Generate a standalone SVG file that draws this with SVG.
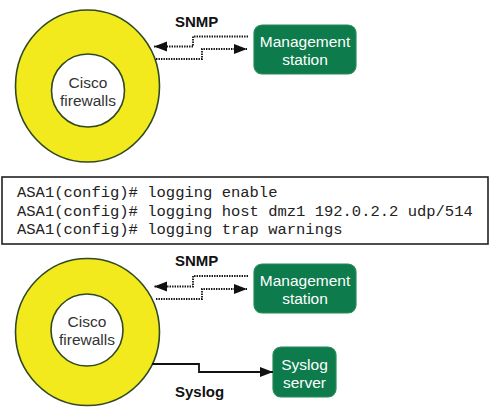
<svg xmlns="http://www.w3.org/2000/svg" width="490" height="411" viewBox="0 0 490 411">
<style>
.ring{fill:#f3ea1e;stroke:#2f4a22;stroke-width:1.6}
.hole{fill:#ffffff;stroke:#2f4a22;stroke-width:1.6}
.ntext{font-family:"Liberation Sans",Arial,sans-serif;font-size:15.5px;fill:#333;text-anchor:middle}
.box{fill:#0d7b4b;stroke:#2a8a5a;stroke-width:1.2}
.btext{font-family:"Liberation Sans",Arial,sans-serif;font-size:15.5px;fill:#ffffff;text-anchor:middle}
.label{font-family:"Liberation Sans",Arial,sans-serif;font-size:15px;font-weight:bold;fill:#111}
.dot{fill:none;stroke:#111;stroke-width:1.8;stroke-dasharray:1.4 1.1}
.solid{fill:none;stroke:#111;stroke-width:1.8}
.code{font-family:"Liberation Mono","Courier New",monospace;font-size:15.5px;fill:#222}
</style>
<defs>
<marker id="ah" markerUnits="userSpaceOnUse" markerWidth="14" markerHeight="11" refX="13" refY="5" orient="auto">
<path d="M0,0 L13,5 L0,10 z" fill="#111"/>
</marker>
</defs>

<g id="firewalls-top">
<ellipse class="ring" cx="87.5" cy="86" rx="72" ry="76"/>
<circle class="hole" cx="88" cy="90.5" r="36.5"/>
<text class="ntext" x="88" y="88">Cisco</text>
<text class="ntext" x="88" y="106">firewalls</text>
</g>

<g id="mgmt-top">
<rect class="box" x="254" y="25" width="102" height="49" rx="8"/>
<text class="btext" x="305" y="47">Management</text>
<text class="btext" x="305" y="65">station</text>
</g>

<g id="config">
<rect x="2" y="177" width="486" height="67" fill="#fff" stroke="#222" stroke-width="1.6"/>
<text class="code" x="17" y="197">ASA1(config)# logging enable</text>
<text class="code" x="17" y="215.5">ASA1(config)# logging host dmz1 192.0.2.2 udp/514</text>
<text class="code" x="17" y="234">ASA1(config)# logging trap warnings</text>
</g>

<g id="firewalls-bottom">
<ellipse class="ring" cx="87.5" cy="332" rx="72" ry="73.5"/>
<circle class="hole" cx="87" cy="330" r="36"/>
<text class="ntext" x="87" y="327">Cisco</text>
<text class="ntext" x="87" y="345">firewalls</text>
</g>

<g id="mgmt-bottom">
<rect class="box" x="254" y="264" width="102" height="49" rx="8"/>
<text class="btext" x="305" y="286">Management</text>
<text class="btext" x="305" y="304">station</text>
</g>

<g id="syslog-server">
<rect class="box" x="273" y="347" width="63" height="50" rx="8"/>
<text class="btext" x="304.5" y="370">Syslog</text>
<text class="btext" x="304.5" y="388">server</text>
</g>

<g id="connectors">
<path class="dot" d="M248,36.5 H193 V46.5 H154" marker-end="url(#ah)"/>
<path class="dot" d="M156,59 H202 V49 H247" marker-end="url(#ah)"/>
<text class="label" x="175" y="26.5">SNMP</text>
<path class="dot" d="M248,276 H193 V286.5 H154" marker-end="url(#ah)"/>
<path class="dot" d="M156,299 H202 V289 H247" marker-end="url(#ah)"/>
<text class="label" x="175" y="266">SNMP</text>
<path class="solid" d="M152,364 H199 V372 H273" marker-end="url(#ah)"/>
<text class="label" x="175" y="396.5">Syslog</text>
</g>
</svg>
